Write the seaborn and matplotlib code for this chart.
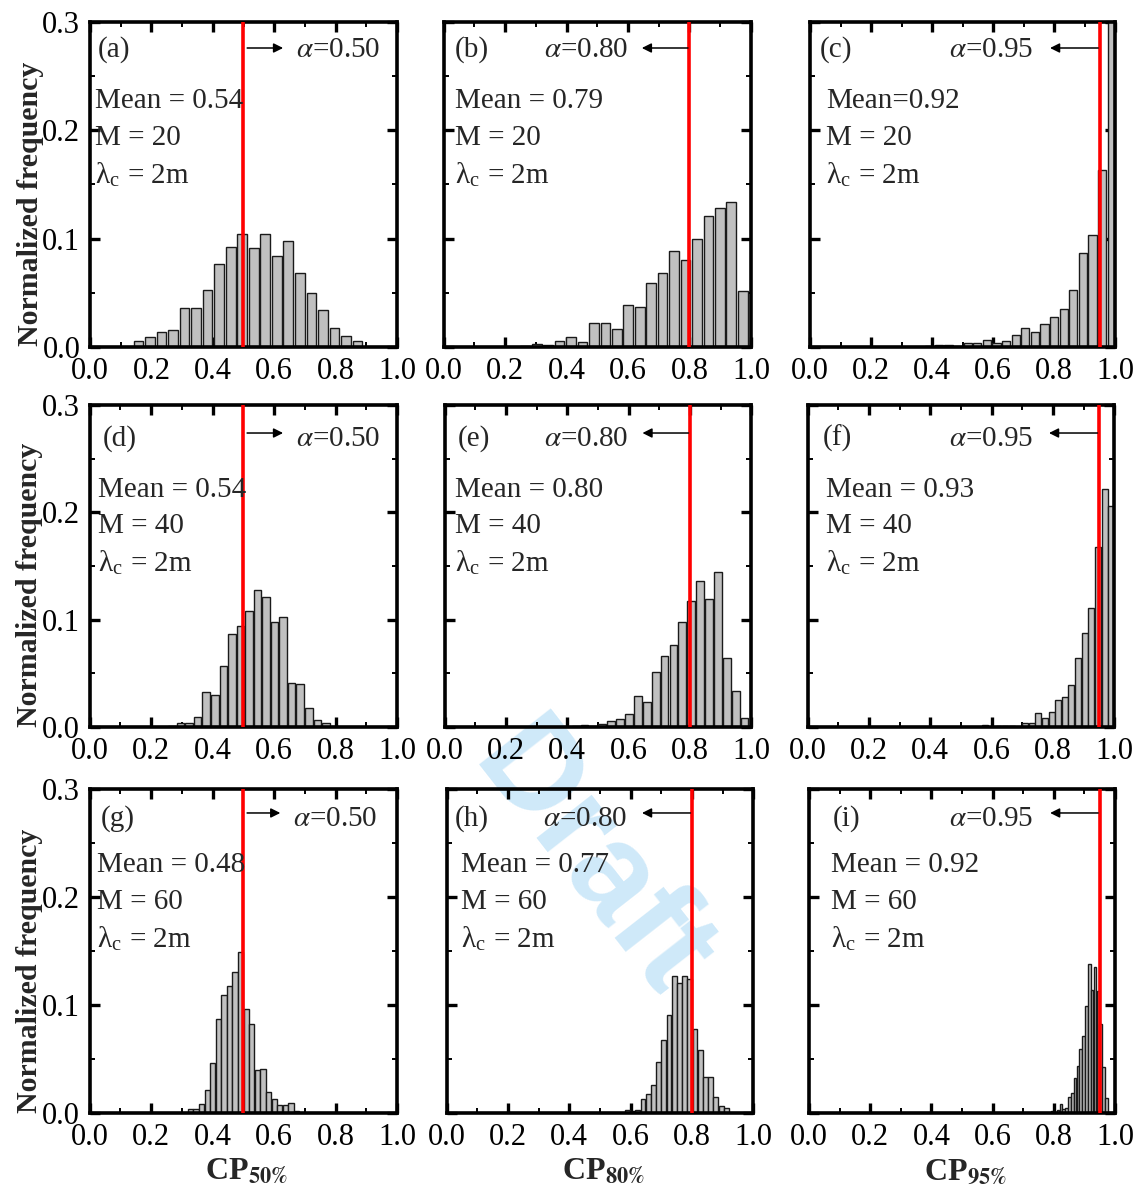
import numpy as np
import pandas as pd
import matplotlib
matplotlib.use("Agg")
import matplotlib.pyplot as plt
import seaborn as sns
from matplotlib.ticker import MultipleLocator, FormatStrFormatter

# ------------------------------------------------------------------ data
panel_labels = ["(a)", "(b)", "(c)", "(d)", "(e)", "(f)", "(g)", "(h)", "(i)"]
alpha_levels = [0.50, 0.80, 0.95, 0.50, 0.80, 0.95, 0.50, 0.80, 0.95]
alpha_texts = ["0.50", "0.80", "0.95", "0.50", "0.80", "0.95", "0.50", "0.80", "0.95"]
mean_texts = ["Mean = 0.54", "Mean = 0.79", "Mean=0.92",
              "Mean = 0.54", "Mean = 0.80", "Mean = 0.93",
              "Mean = 0.48", "Mean = 0.77", "Mean = 0.92"]
m_values = [20, 20, 20, 40, 40, 40, 60, 60, 60]
lambda_text = "2m"
x_labels = ["50%", "80%", "95%"]
y_label = "Normalized frequency"

# histogram bin ranges (20 bins each)
bin_ranges = [(0.139, 0.890), (0.2474, 0.9916), (0.3753, 1.0047),
              (0.2541, 0.8099), (0.4125, 0.9925), (0.5682, 1.0008),
              (0.3184, 0.6821), (0.5805, 0.9205), (0.7903, 0.9767)]

freq_a = [0.0055, 0.0092, 0.014, 0.0154, 0.036, 0.036, 0.053, 0.077, 0.092, 0.104,
          0.091, 0.104, 0.084, 0.098, 0.068, 0.050, 0.034, 0.018, 0.010, 0.0055]
freq_b = [0.0012, 0.003, 0.002, 0.0056, 0.0096, 0.0043, 0.022, 0.0217, 0.017, 0.0385,
          0.037, 0.0587, 0.0686, 0.0888, 0.080, 0.100, 0.121, 0.128, 0.134, 0.052]
freq_c = [0.0006, 0.0015, 0.002, 0.0012, 0.0034, 0.0034, 0.0068, 0.0034, 0.006, 0.011,
          0.018, 0.014, 0.021, 0.0276, 0.0348, 0.0525, 0.087, 0.103, 0.1637, 0.32]
freq_d = [0.0012, 0.0037, 0.0037, 0.0097, 0.0325, 0.030, 0.057, 0.087, 0.094, 0.108,
          0.1275, 0.1213, 0.098, 0.1025, 0.041, 0.040, 0.018, 0.0063, 0.0037, 0.0008]
freq_e = [0.0006, 0.0019, 0.0006, 0.0025, 0.0056, 0.0074, 0.0118, 0.029, 0.0235, 0.051,
          0.066, 0.076, 0.0975, 0.117, 0.136, 0.119, 0.144, 0.0647, 0.0334, 0.0084]
freq_f = [0.002, 0.0, 0.0006, 0.0006, 0.0006, 0.0, 0.004, 0.004, 0.013, 0.008,
          0.014, 0.025, 0.028, 0.039, 0.064, 0.088, 0.111, 0.168, 0.222, 0.206]
freq_g = [0.0034, 0.0034, 0.0084, 0.0217, 0.0467, 0.0873, 0.109, 0.1176, 0.131, 0.149,
          0.096, 0.082, 0.0396, 0.041, 0.0195, 0.0133, 0.0071, 0.0077, 0.0096, 0.0019]
freq_h = [0.0024, 0.0018, 0.003, 0.013, 0.0177, 0.026, 0.047, 0.0676, 0.091, 0.127,
          0.120, 0.127, 0.124, 0.078, 0.058, 0.033, 0.033, 0.015, 0.0067, 0.0049]
freq_i = [0.0018, 0.0009, 0.0025, 0.0086, 0.0037, 0.0049, 0.015, 0.0188, 0.0326, 0.0431,
          0.0597, 0.071, 0.099, 0.138, 0.114, 0.135, 0.113, 0.082, 0.043, 0.014]
freqs = [freq_a, freq_b, freq_c, freq_d, freq_e, freq_f, freq_g, freq_h, freq_i]

# ------------------------------------------------------------------ layout / style
W, H = 1140, 1196
# (left px, right px, top px, bottom px)
axes_px = [(90, 397, 22, 347), (443.5, 751, 22, 347), (810, 1115, 22, 347),
           (89.6, 397.2, 405, 727), (444.7, 751.3, 405, 727), (807.7, 1114.3, 405, 727),
           (89.6, 397.2, 789, 1113), (446.7, 753.3, 789, 1113), (809, 1115, 789, 1113)]
shrinks = [0.84, 0.84, 0.86, 0.88, 0.88, 0.9, 0.93, 0.92, 0.92]
label_x = [0.026, 0.037, 0.033, 0.044, 0.044, 0.05, 0.037, 0.027, 0.078]
mean_x = [0.016, 0.037, 0.052, 0.027, 0.034, 0.06, 0.024, 0.047, 0.072]
alpha_x_right = [0.945, 0.60, 0.731, 0.945, 0.598, 0.735, 0.934, 0.59, 0.732]
arrow_end = [0.629, 0.645, 0.787, 0.629, 0.645, 0.787, 0.62, 0.637, 0.788]
row_y = [  # label, mean, M, lambda baselines ; arrow centre
    (0.892, 0.735, 0.622, 0.505, 0.92),
    (0.873, 0.714, 0.602, 0.484, 0.913),
    (0.886, 0.744, 0.630, 0.512, 0.926),
]

sns.set_theme(style="ticks")
plt.rcParams["font.family"] = ["Liberation Serif", "DejaVu Serif"]
plt.rcParams["mathtext.fontset"] = "stix"
plt.rcParams["axes.linewidth"] = 2.6

fig = plt.figure(figsize=(W / 100, H / 100), dpi=100)
fs = 21

for k in range(9):
    l, r, t, b = axes_px[k]
    ax = fig.add_axes([l / W, 1 - b / H, (r - l) / W, (b - t) / H])
    ax.set_facecolor("none")
    lo, hi = bin_ranges[k]
    nb = len(freqs[k])
    centers = lo + (np.arange(nb) + 0.5) * (hi - lo) / nb
    df = pd.DataFrame({"cp": centers, "freq": freqs[k]})
    sns.histplot(data=df, x="cp", weights="freq", bins=nb, binrange=(lo, hi),
                 shrink=shrinks[k], color="#c0c0c0", edgecolor="#1a1a1a",
                 linewidth=1.0, alpha=1.0, ax=ax)
    ax.set_xlim(0, 1.0)
    ax.set_ylim(0, 0.3)
    ax.axvline(alpha_levels[k], color="red", lw=2.6, zorder=3)
    ax.set_axisbelow(True)

    for s in ax.spines.values():
        s.set_visible(True)
        s.set_linewidth(2.6)
        s.set_color("black")

    ax.xaxis.set_major_locator(MultipleLocator(0.2))
    ax.xaxis.set_minor_locator(MultipleLocator(0.1))
    ax.yaxis.set_major_locator(MultipleLocator(0.1))
    ax.yaxis.set_minor_locator(MultipleLocator(0.05))
    ax.xaxis.set_major_formatter(FormatStrFormatter("%.1f"))
    ax.yaxis.set_major_formatter(FormatStrFormatter("%.1f"))
    ax.tick_params(which="both", direction="in", top=True, right=True,
                   colors="black", labelsize=fs + 1)
    ax.tick_params(which="major", length=7, width=2.4, pad=7)
    ax.tick_params(which="minor", length=3.5, width=1.4)

    col = k % 3
    row = k // 3
    if col == 0:
        ax.set_ylabel(y_label, fontsize=fs + 0.5, fontweight="bold")
        ax.yaxis.set_label_coords(-0.15, 0.44)
    else:
        ax.set_ylabel("")
        ax.tick_params(axis="y", labelleft=False)
    if row == 2:
        ax.set_xlabel("CP$_{\\mathbf{" + x_labels[col].replace("%", "\\%") + "}}$",
                      fontsize=fs + 2, fontweight="bold")
        ax.xaxis.set_label_coords(0.51, -0.135)
    else:
        ax.set_xlabel("")

    ly, my, mmy, lay, ary = row_y[row]
    ax.text(label_x[k], ly, panel_labels[k], transform=ax.transAxes,
            fontsize=fs, va="baseline", ha="left")
    ax.text(mean_x[k], my, mean_texts[k], transform=ax.transAxes,
            fontsize=fs, va="baseline", ha="left")
    ax.text(mean_x[k], mmy, "M = %d" % m_values[k], transform=ax.transAxes,
            fontsize=fs, va="baseline", ha="left")
    ax.text(mean_x[k], lay, "λ$_{\\mathregular{c}}$ = " + lambda_text,
            transform=ax.transAxes, fontsize=fs, va="baseline", ha="left")
    ax.text(alpha_x_right[k], ly, "$\\alpha$=" + alpha_texts[k],
            transform=ax.transAxes, fontsize=fs, va="baseline", ha="right")
    start = alpha_levels[k] + (0.012 if col == 0 else -0.005)
    ax.annotate("", xy=(arrow_end[k], ary), xytext=(start, ary),
                xycoords=("data", "axes fraction"),
                textcoords=("data", "axes fraction"),
                arrowprops=dict(arrowstyle="-|>", lw=1.1, color="black",
                                mutation_scale=14, shrinkA=0, shrinkB=0))

fig.text(590 / W, 1 - 862 / H, "Draft", fontsize=94, fontweight="bold",
         family=["Liberation Sans", "DejaVu Sans"], color="#cfe9f9",
         rotation=-52, ha="center", va="center", zorder=-1)

fig.savefig("out.png", dpi=100)
